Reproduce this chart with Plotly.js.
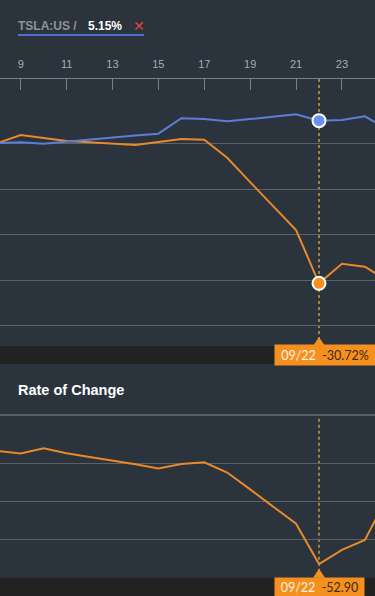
<!DOCTYPE html>
<html>
<head>
<meta charset="utf-8">
<script src="https://cdn.plot.ly/plotly-3.0.1.min.js"></script>
<style>
html,body{margin:0;padding:0;background:#2b333d;}
#chart{width:375px;height:596px;}
</style>
</head>
<body>
<div id="chart"></div>
<script>
// Days of September
const days = [8, 9, 10, 11, 12, 13, 14, 15, 16, 17, 18, 19, 20, 21, 22, 23, 24, 25];
const tickDays = [9, 11, 13, 15, 17, 19, 21, 23];
// % change since start
const tslaPct = [0.2, 0.37, 0.07, 0.55, 1.0, 1.43, 1.87, 2.27, 5.67, 5.51, 5.0, 5.5, 6.0, 6.55, 5.15, 5.29, 6.1, 3.2];
const comparePct = [0.2, 1.98, 1.32, 0.66, 0.37, 0.15, -0.22, 0.44, 1.1, 0.95, -3.02, -8.4, -13.7, -18.96, -30.72, -26.4, -27.06, -30.2];
// Rate of change indicator
const roc = [6.6, 5.3, 8.1, 5.5, 3.5, 1.6, -0.3, -2.6, -0.2, 0.7, -4.7, -13.6, -22.6, -31.7, -52.9, -45.4, -40.2, -17.2];
const legendSymbol = 'TSLA:US /';
const legendValue = '5.15%';
const indicatorTitle = 'Rate of Change';

const selIdx = days.indexOf(22);
const selLabel = '09/' + String(days[selIdx]).padStart(2, '0');

const H = 596;
const py = y => (H - y) / H;

const blueLine = '#5b7fd6';
const orange = '#e8892a';
const orangeBox = '#f5901f';
const gridCol = '#5c6168';
const dotCol = '#a3813c';

const traces = [
  {x: days, y: comparePct, xaxis: 'x', yaxis: 'y', mode: 'lines', line: {color: orange, width: 2}, hoverinfo: 'skip'},
  {x: days, y: tslaPct, xaxis: 'x', yaxis: 'y', mode: 'lines', line: {color: blueLine, width: 2}, hoverinfo: 'skip'},
  {x: [days[selIdx]], y: [tslaPct[selIdx]], xaxis: 'x', yaxis: 'y', mode: 'markers', marker: {color: '#6a90f2', size: 13, line: {color: '#ffffff', width: 2}}, hoverinfo: 'skip'},
  {x: [days[selIdx]], y: [comparePct[selIdx]], xaxis: 'x', yaxis: 'y', mode: 'markers', marker: {color: orangeBox, size: 13, line: {color: '#ffffff', width: 2}}, hoverinfo: 'skip'},
  {x: days, y: roc, xaxis: 'x2', yaxis: 'y2', mode: 'lines', line: {color: orange, width: 2}, hoverinfo: 'skip'}
];

const xr = [8.098, 24.44];
const topDom = [py(346), py(79)];
const botDom = [py(577.7), py(415)];

const layout = {
  width: 375, height: 596,
  margin: {l: 0, r: 0, t: 0, b: 0},
  paper_bgcolor: '#2b333d',
  plot_bgcolor: '#2b333d',
  showlegend: false,
  xaxis: {
    domain: [0, 1], range: xr, anchor: 'y', side: 'top',
    tickvals: tickDays, ticktext: tickDays.map(String),
    ticks: 'inside', ticklen: 11, tickcolor: '#7a7f86', tickwidth: 1,
    ticklabelstandoff: 6,
    showline: true, linecolor: '#7a7f86', linewidth: 1,
    showgrid: false, zeroline: false,
    tickfont: {family: 'Liberation Sans, Arial, sans-serif', size: 11, color: '#a7acb2'}
  },
  yaxis: {
    domain: topDom, range: [-44.54, 14.33], anchor: 'x',
    tickvals: [0, -10, -20, -30, -40], showticklabels: false, ticks: '',
    showgrid: true, gridcolor: gridCol, gridwidth: 1, zeroline: false
  },
  xaxis2: {
    domain: [0, 1], range: xr, anchor: 'y2', visible: false
  },
  yaxis2: {
    domain: botDom, range: [-60.1, 25.6], anchor: 'x2',
    tickvals: [0, -20, -40, -60], showticklabels: false, ticks: '',
    showgrid: true, gridcolor: gridCol, gridwidth: 1, zeroline: false
  },
  shapes: [
    // dark bands
    {type: 'rect', xref: 'paper', yref: 'paper', x0: 0, x1: 1, y0: py(364), y1: py(346), fillcolor: '#222222', line: {width: 0}, layer: 'above'},
    {type: 'rect', xref: 'paper', yref: 'paper', x0: 0, x1: 1, y0: 0, y1: py(577.7), fillcolor: '#222222', line: {width: 0}, layer: 'above'},
    // top border of indicator pane
    {type: 'line', xref: 'paper', yref: 'paper', x0: 0, x1: 1, y0: py(415), y1: py(415), line: {color: '#868b91', width: 1}},
    // crosshair
    {type: 'line', xref: 'x', yref: 'paper', x0: days[selIdx], x1: days[selIdx], y0: py(346), y1: py(79), line: {color: dotCol, width: 2, dash: 'dot'}, layer: 'below'},
    {type: 'line', xref: 'x', yref: 'paper', x0: days[selIdx], x1: days[selIdx], y0: py(577.7), y1: py(416), line: {color: dotCol, width: 2, dash: 'dot'}, layer: 'below'},
    // pointers
    {type: 'path', xref: 'x', yref: 'paper', xsizemode: 'pixel', ysizemode: 'pixel', xanchor: days[selIdx], yanchor: py(346), path: 'M-6,0 L0,9 L6,0 Z', fillcolor: orangeBox, line: {width: 0}},
    {type: 'path', xref: 'x', yref: 'paper', xsizemode: 'pixel', ysizemode: 'pixel', xanchor: days[selIdx], yanchor: py(577.7), path: 'M-6,0 L0,9 L6,0 Z', fillcolor: orangeBox, line: {width: 0}},
    // legend underline
    {type: 'line', xref: 'paper', yref: 'paper', x0: 18/375, x1: 144/375, y0: py(35), y1: py(35), line: {color: '#4d6fcf', width: 2}}
  ],
  annotations: [
    {xref: 'paper', yref: 'paper', x: 16/375, y: py(26), xanchor: 'left', yanchor: 'middle', showarrow: false,
     text: '<b>' + legendSymbol + '</b>', font: {family: 'Liberation Sans, Arial, sans-serif', size: 12, color: '#8e949b'}},
    {xref: 'paper', yref: 'paper', x: 86/375, y: py(26), xanchor: 'left', yanchor: 'middle', showarrow: false,
     text: '<b>' + legendValue + '</b>', font: {family: 'Liberation Sans, Arial, sans-serif', size: 12, color: '#ffffff'}},
    {xref: 'paper', yref: 'paper', x: 139/375, y: py(26), xanchor: 'center', yanchor: 'middle', showarrow: false,
     text: '✕', font: {family: 'DejaVu Sans, sans-serif', size: 14, color: '#e0453f'}},
    {xref: 'paper', yref: 'paper', x: 16/375, y: py(390), xanchor: 'left', yanchor: 'middle', showarrow: false,
     text: '<b>' + indicatorTitle + '</b>', font: {family: 'Liberation Sans, Arial, sans-serif', size: 14.5, color: '#ffffff'}},
    {xref: 'x', yref: 'paper', x: days[selIdx], xshift: 6, y: py(355), xanchor: 'center', yanchor: 'middle', showarrow: false,
     bgcolor: orangeBox, borderpad: 3, width: 94, height: 14,
     text: '<span style="color:#fff3e0">' + selLabel + '</span>  ' + comparePct[selIdx].toFixed(2) + '%',
     font: {family: 'Lato, Open Sans, sans-serif', size: 12.5, color: '#3a2a14'}},
    {xref: 'x', yref: 'paper', x: days[selIdx], xshift: 0.5, y: py(587), xanchor: 'center', yanchor: 'middle', showarrow: false,
     bgcolor: orangeBox, borderpad: 3, width: 83, height: 13,
     text: '<span style="color:#fff3e0">' + selLabel + '</span>  ' + roc[selIdx].toFixed(2),
     font: {family: 'Lato, Open Sans, sans-serif', size: 12.5, color: '#3a2a14'}}
  ]
};

Plotly.newPlot('chart', traces, layout, {staticPlot: true, displayModeBar: false});
</script>
</body>
</html>
